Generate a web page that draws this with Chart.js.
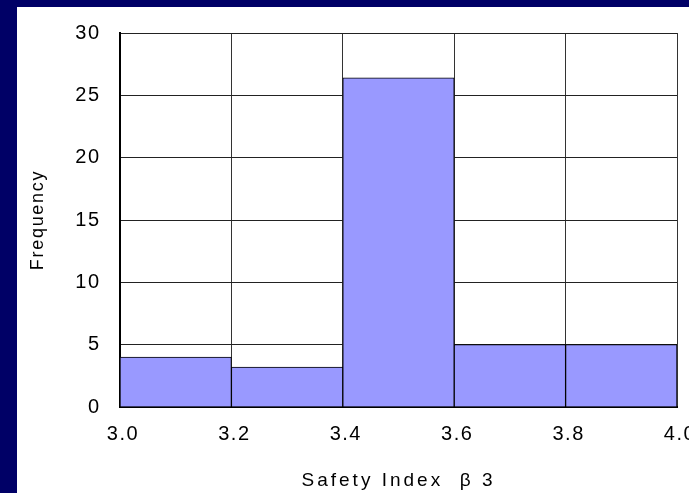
<!DOCTYPE html>
<html>
<head>
<meta charset="utf-8">
<script src="https://cdn.jsdelivr.net/npm/chart.js@4/dist/chart.umd.min.js"></script>
<style>
  html, body { margin: 0; padding: 0; background: #000066; overflow: hidden; }
  #wrap { position: absolute; left: 0; top: 0; width: 689px; height: 493px; overflow: hidden; }
  canvas { display: block; }
</style>
</head>
<body>
<div id="wrap"><canvas id="c" width="720" height="493" style="width:720px;height:493px"></canvas></div>
<script>
// ---- data ----
const binCenters   = [3.1, 3.3, 3.5, 3.7, 3.9];
const frequencies  = [4, 3.2, 26.4, 5, 5];
const xTickLabels  = ['3.0', '3.2', '3.4', '3.6', '3.8', '4.0'];
const yTickLabels  = ['0', '5', '10', '15', '20', '25', '30'];
const xTitle = 'Safety Index  β 3';
const yTitle = 'Frequency';

const FONT = "'Liberation Sans', Arial, sans-serif";
const TICK_SPACING = '1.5px';
const TITLE_SPACING = { x: '3px', y: '1.7px' };

const framePlugin = {
  id: 'frame',
  beforeLayout(chart) { chart.ctx.letterSpacing = TICK_SPACING; },
  beforeDraw(chart) {
    const ctx = chart.ctx;
    ctx.save();
    ctx.fillStyle = '#000066';
    ctx.fillRect(0, 0, chart.width, chart.height);
    ctx.fillStyle = '#ffffff';
    ctx.fillRect(17, 7, chart.width - 17, chart.height - 7);
    ctx.restore();
    ctx.letterSpacing = TICK_SPACING;
    ['x', 'y'].forEach(id => {
      const s = chart.scales[id];
      if (s && !s._spacingWrapped) {
        const orig = s.drawTitle;
        s.drawTitle = function () {
          const prev = this.ctx.letterSpacing;
          this.ctx.letterSpacing = TITLE_SPACING[id];
          orig.apply(this, arguments);
          this.ctx.letterSpacing = prev;
        };
        s._spacingWrapped = true;
      }
    });
  }
};

new Chart(document.getElementById('c'), {
  type: 'bar',
  data: {
    datasets: [{
      data: binCenters.map((x, i) => ({ x: x, y: frequencies[i] })),
      backgroundColor: '#9999FF',
      borderColor: '#000000',
      borderWidth: 1,
      barPercentage: 1,
      categoryPercentage: 1
    }]
  },
  options: {
    responsive: false,
    animation: false,
    layout: { padding: { left: 0, top: 33, right: 43, bottom: 0 } },
    plugins: { legend: { display: false }, tooltip: { enabled: false } },
    scales: {
      x: {
        type: 'linear',
        offset: false,
        min: 3.0, max: 4.0,
        afterFit: s => { s.height = 86; },
        grid: { color: '#333333', lineWidth: 1, drawTicks: false, offset: false },
        border: { color: '#000000', width: 2 },
        ticks: {
          stepSize: 0.2,
          padding: 15,
          labelOffset: 3,
          color: '#000000',
          font: { family: FONT, size: 20 },
          callback: (v, i) => xTickLabels[i]
        },
        title: {
          display: true, text: xTitle, color: '#000000',
          font: { family: FONT, size: 19 },
          padding: { top: 0, bottom: 1 }
        }
      },
      y: {
        min: 0, max: 30,
        afterFit: s => { s.width = 120; },
        grid: { color: '#222222', lineWidth: 1, drawTicks: false },
        border: { color: '#000000', width: 2 },
        ticks: {
          stepSize: 5,
          padding: 19.5,
          color: '#000000',
          font: { family: FONT, size: 20 },
          callback: (v, i) => yTickLabels[i]
        },
        title: {
          display: true, text: yTitle, color: '#000000',
          font: { family: FONT, size: 18 },
          padding: { top: 27, bottom: 0 }
        }
      }
    }
  },
  plugins: [framePlugin]
});
</script>
</body>
</html>
